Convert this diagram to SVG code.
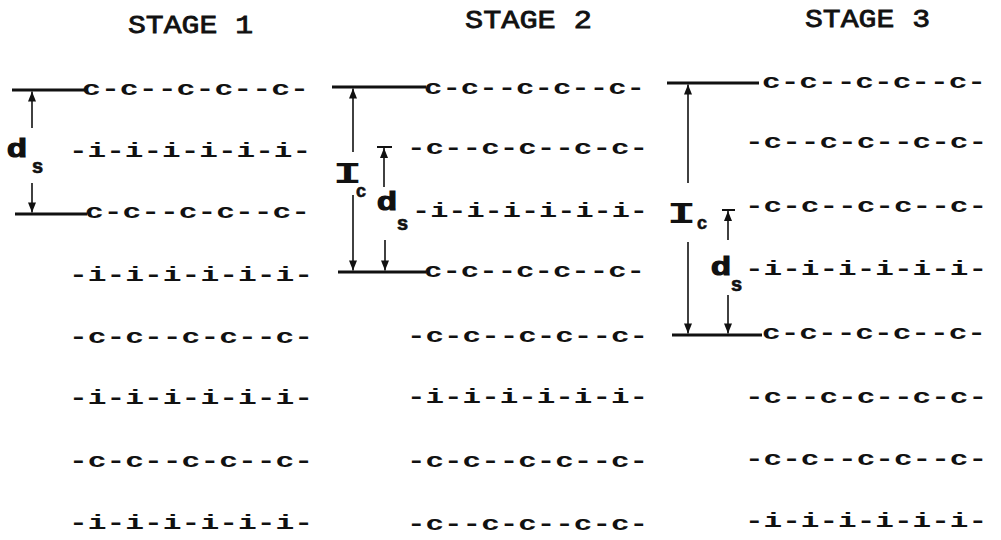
<svg xmlns="http://www.w3.org/2000/svg" width="1001" height="540" viewBox="0 0 1001 540">
<style>
.t{font-family:"Liberation Mono",monospace;font-weight:normal;font-size:26px;fill:#111;stroke:#111;stroke-width:0.8}
.r{font-family:"Liberation Mono",monospace;font-weight:bold;font-size:20px;fill:#111}
.d{font-family:"Liberation Sans",Arial,sans-serif;font-weight:bold;font-size:26px;fill:#111;stroke:#111;stroke-width:1.2}
.s{font-family:"Liberation Sans",Arial,sans-serif;font-weight:bold;font-size:20px;fill:#111;stroke:#111;stroke-width:0.6}
.I{font-family:"Liberation Mono",monospace;font-weight:bold;font-size:30px;fill:#111}
.bar{stroke:#111;stroke-width:3;fill:none}
.ar{stroke:#111;stroke-width:1.6;fill:none;marker-end:url(#ah)}
.tk{stroke:#111;stroke-width:2;fill:none}
</style>
<defs>
<marker id="ah" viewBox="0 0 10 8" refX="10" refY="4" markerWidth="11" markerHeight="8" markerUnits="userSpaceOnUse" orient="auto">
<path d="M0,0 L10,4 L0,8 z" fill="#111"/>
</marker>
</defs>
<rect width="1001" height="540" fill="#fff"/>

<g id="stage1">
<text class="t" x="128" y="33" textLength="125" lengthAdjust="spacingAndGlyphs">STAGE 1</text>
<text class="r" x="82" y="95" textLength="227" lengthAdjust="spacingAndGlyphs">c-c--c-c--c-</text>
<text class="r" x="69" y="157" textLength="242" lengthAdjust="spacingAndGlyphs">-i-i-i-i-i-i-</text>
<text class="r" x="85" y="218" textLength="225" lengthAdjust="spacingAndGlyphs">c-c--c-c--c-</text>
<text class="r" x="69" y="281" textLength="244" lengthAdjust="spacingAndGlyphs">-i-i-i-i-i-i-</text>
<text class="r" x="69" y="343" textLength="244" lengthAdjust="spacingAndGlyphs">-c-c--c-c--c-</text>
<text class="r" x="69" y="404" textLength="244" lengthAdjust="spacingAndGlyphs">-i-i-i-i-i-i-</text>
<text class="r" x="69" y="467" textLength="244" lengthAdjust="spacingAndGlyphs">-c-c--c-c--c-</text>
<text class="r" x="69" y="529" textLength="244" lengthAdjust="spacingAndGlyphs">-i-i-i-i-i-i-</text>
</g>

<g id="stage2">
<text class="t" x="465" y="28" textLength="127" lengthAdjust="spacingAndGlyphs">STAGE 2</text>
<text class="r" x="424" y="94" textLength="221" lengthAdjust="spacingAndGlyphs">c-c--c-c--c-</text>
<text class="r" x="407" y="154" textLength="241" lengthAdjust="spacingAndGlyphs">-c--c-c--c-c-</text>
<text class="r" x="412" y="217" textLength="236" lengthAdjust="spacingAndGlyphs">-i-i-i-i-i-i-</text>
<text class="r" x="424" y="277" textLength="221" lengthAdjust="spacingAndGlyphs">c-c--c-c--c-</text>
<text class="r" x="407" y="342" textLength="241" lengthAdjust="spacingAndGlyphs">-c-c--c-c--c-</text>
<text class="r" x="407" y="403" textLength="241" lengthAdjust="spacingAndGlyphs">-i-i-i-i-i-i-</text>
<text class="r" x="407" y="467" textLength="241" lengthAdjust="spacingAndGlyphs">-c-c--c-c--c-</text>
<text class="r" x="407" y="530" textLength="241" lengthAdjust="spacingAndGlyphs">-c--c-c--c-c-</text>
</g>

<g id="stage3">
<text class="t" x="805" y="27" textLength="125" lengthAdjust="spacingAndGlyphs">STAGE 3</text>
<text class="r" x="762" y="88" textLength="224" lengthAdjust="spacingAndGlyphs">c-c--c-c--c-</text>
<text class="r" x="745" y="148" textLength="242" lengthAdjust="spacingAndGlyphs">-c--c-c--c-c-</text>
<text class="r" x="745" y="212" textLength="242" lengthAdjust="spacingAndGlyphs">-c-c--c-c--c-</text>
<text class="r" x="745" y="275" textLength="242" lengthAdjust="spacingAndGlyphs">-i-i-i-i-i-i-</text>
<text class="r" x="762" y="339" textLength="224" lengthAdjust="spacingAndGlyphs">c-c--c-c--c-</text>
<text class="r" x="745" y="403" textLength="242" lengthAdjust="spacingAndGlyphs">-c--c-c--c-c-</text>
<text class="r" x="745" y="465" textLength="242" lengthAdjust="spacingAndGlyphs">-c-c--c-c--c-</text>
<text class="r" x="745" y="527" textLength="242" lengthAdjust="spacingAndGlyphs">-i-i-i-i-i-i-</text>
</g>

<g id="labels">
<g id="ds1"><text class="d" x="7" y="157" textLength="20" lengthAdjust="spacingAndGlyphs">d</text><text class="s" x="32" y="173">s</text></g>
<g id="ic2"><text class="I" x="333" y="183" textLength="29" lengthAdjust="spacingAndGlyphs">I</text><text class="s" x="356" y="197" style="font-size:18px">c</text></g>
<g id="ds2"><text class="d" x="377" y="210" textLength="20" lengthAdjust="spacingAndGlyphs">d</text><text class="s" x="397" y="230">s</text></g>
<g id="ic3"><text class="I" x="667" y="223" textLength="29" lengthAdjust="spacingAndGlyphs">I</text><text class="s" x="697" y="229" style="font-size:18px">c</text></g>
<g id="ds3"><text class="d" x="711" y="275" textLength="20" lengthAdjust="spacingAndGlyphs">d</text><text class="s" x="731" y="291">s</text></g>
</g>

<g id="connectors">
<line class="bar" x1="12" y1="90" x2="85" y2="90"/>
<line class="bar" x1="15" y1="214" x2="87" y2="214"/>
<line class="ar" x1="32" y1="128" x2="32" y2="91.5"/>
<line class="ar" x1="32" y1="183" x2="32" y2="212.5"/>

<line class="bar" x1="332" y1="87" x2="426" y2="87"/>
<line class="bar" x1="338" y1="272" x2="426" y2="272"/>
<line class="ar" x1="353" y1="152" x2="353" y2="88.5"/>
<line class="ar" x1="353" y1="195" x2="353" y2="270.5"/>
<line class="tk" x1="377" y1="147" x2="392" y2="147"/>
<line class="ar" x1="384" y1="187" x2="384" y2="148"/>
<line class="ar" x1="385" y1="240" x2="385" y2="270.5"/>

<line class="bar" x1="667" y1="83" x2="759" y2="83"/>
<line class="bar" x1="672" y1="335" x2="762" y2="335"/>
<line class="ar" x1="688" y1="183" x2="688" y2="84.5"/>
<line class="ar" x1="688" y1="242" x2="688" y2="333.5"/>
<line class="tk" x1="722" y1="210" x2="735" y2="210"/>
<line class="ar" x1="728" y1="240" x2="728" y2="211"/>
<line class="ar" x1="728" y1="295" x2="728" y2="333.5"/>
</g>
</svg>
